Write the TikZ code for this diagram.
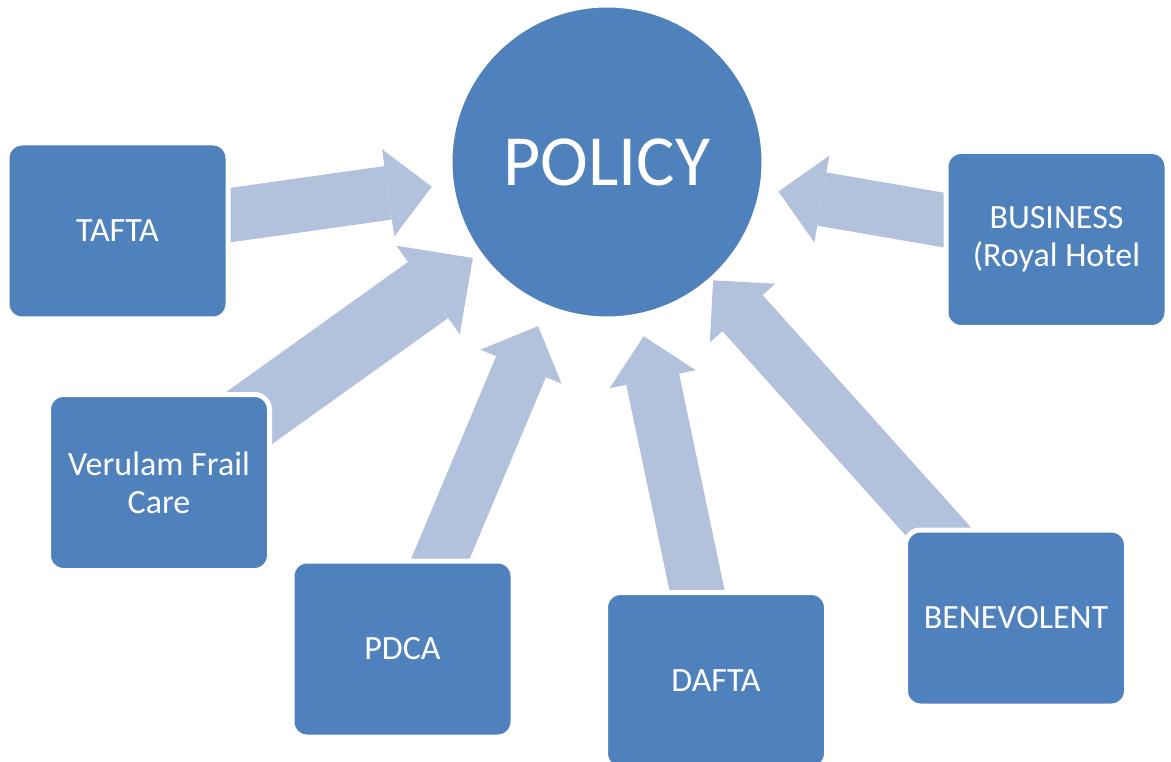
\documentclass[tikz,border=0pt]{standalone}
\usepackage{fontspec}
\setmainfont{Carlito}
\usetikzlibrary{arrows.meta,backgrounds}
\definecolor{boxblue}{HTML}{4F81BD}
\definecolor{flowblue}{HTML}{B3C2DC}
\tikzset{
  partner/.style={rectangle, rounded corners=15pt, fill=boxblue, draw=white,
    line width=5pt, minimum width=221pt, minimum height=176pt, inner sep=0pt,
    outer sep=0pt, text=white, align=center, font=\fontsize{34}{38}\selectfont},
  hub/.style={circle, fill=boxblue, draw=white, line width=5pt,
    minimum size=314pt, inner sep=0pt, outer sep=0pt, text=white,
    font=\fontsize{72}{80}\selectfont},
  flow/.style={draw=flowblue, line width=54pt,
    -{Triangle[length=44pt 0 0, width=88pt 0 0, line width=0pt 0 0]}},
  bigflow/.style={draw=flowblue, line width=69pt,
    -{Triangle[length=55pt 0 0, width=109pt 0 0, line width=0pt 0 0]}}
}
\begin{document}
\begin{tikzpicture}[x=1pt,y=-1pt]
        \useasboundingbox (0,0) rectangle (1171,762);
        \node[hub] (policy) at (607,162) {POLICY};
        \node[partner] (tafta) at (117.5,231) {TAFTA};
        \node[partner] (business) at (1056.5,239.5) {BUSINESS\\(Royal Hotel};
        \node[partner] (verulam) at (159,482.5) {Verulam Frail\\Care};
        \node[partner] (pdca) at (402.5,649) {PDCA};
        \node[partner] (dafta) at (716,680.5) {DAFTA};
        \node[partner] (benevolent) at (1016,618) {BENEVOLENT};
        \begin{scope}[on background layer]
          \draw[flow, shorten >=20pt] (tafta.center) -- (policy);
          \draw[bigflow, shorten >=8pt] (verulam.center) -- (policy);
          \draw[flow, shorten >=21pt] (pdca.center) -- (policy);
          \draw[flow, shorten >=21pt] (dafta.center) -- (policy);
          \draw[flow, shorten >=2pt] (benevolent.center) -- (policy);
          \draw[flow, shorten >=17pt] (business.center) -- (policy);
        \end{scope}
      \end{tikzpicture}
\end{document}
